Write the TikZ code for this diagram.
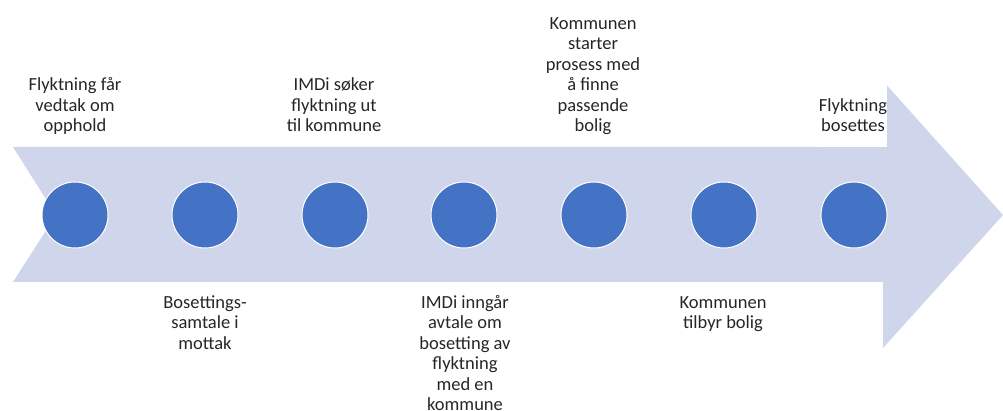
\documentclass[tikz,border=0pt]{standalone}
\usepackage{fontspec}
\setmainfont{Carlito}
\definecolor{arrowfill}{HTML}{CFD5EA}
\definecolor{dotblue}{HTML}{4472C4}
\definecolor{txt}{HTML}{262626}
\begin{document}
\begin{tikzpicture}[x=1pt,y=-1pt,
  dot/.style={circle,fill=dotblue,draw=white,line width=1pt,minimum size=66pt,inner sep=0pt},
  lbl/.style={align=center,anchor=base,inner sep=0pt,text=txt,font=\fontsize{18.5}{20.5}\selectfont}]
\useasboundingbox (0,0) rectangle (1003,411);
\fill[arrowfill] (13,147) -- (883,147) -- (883,81) -- (1003,215) -- (883,348) -- (883,282) -- (13,282) -- (56,215) -- cycle;
\fill[white] (819,70) rectangle (887,147);
\foreach \i/\x in {1/75,2/205,3/335,4/464,5/594,6/724,7/854}{
  \node[dot] (c\i) at (\x,215) {};
}
\node[lbl] (l1) at (75,132) {Flyktning får\\vedtak om\\opphold};
\node[lbl] (l3) at (334,132) {IMDi søker\\flyktning ut\\til kommune};
\node[lbl] (l5) at (593,132) {Kommunen\\starter\\prosess med\\å finne\\passende\\bolig};
\node[lbl] (l7) at (853,132) {Flyktning\\bosettes};
\node[lbl] (l2) at (205,349) {Bosettings-\\samtale i\\mottak};
\node[lbl] (l4) at (465,410.5) {IMDi inngår\\avtale om\\bosetting av\\flyktning\\med en\\kommune};
\node[lbl] (l6) at (723,328.5) {Kommunen\\tilbyr bolig};
\end{tikzpicture}
\end{document}
